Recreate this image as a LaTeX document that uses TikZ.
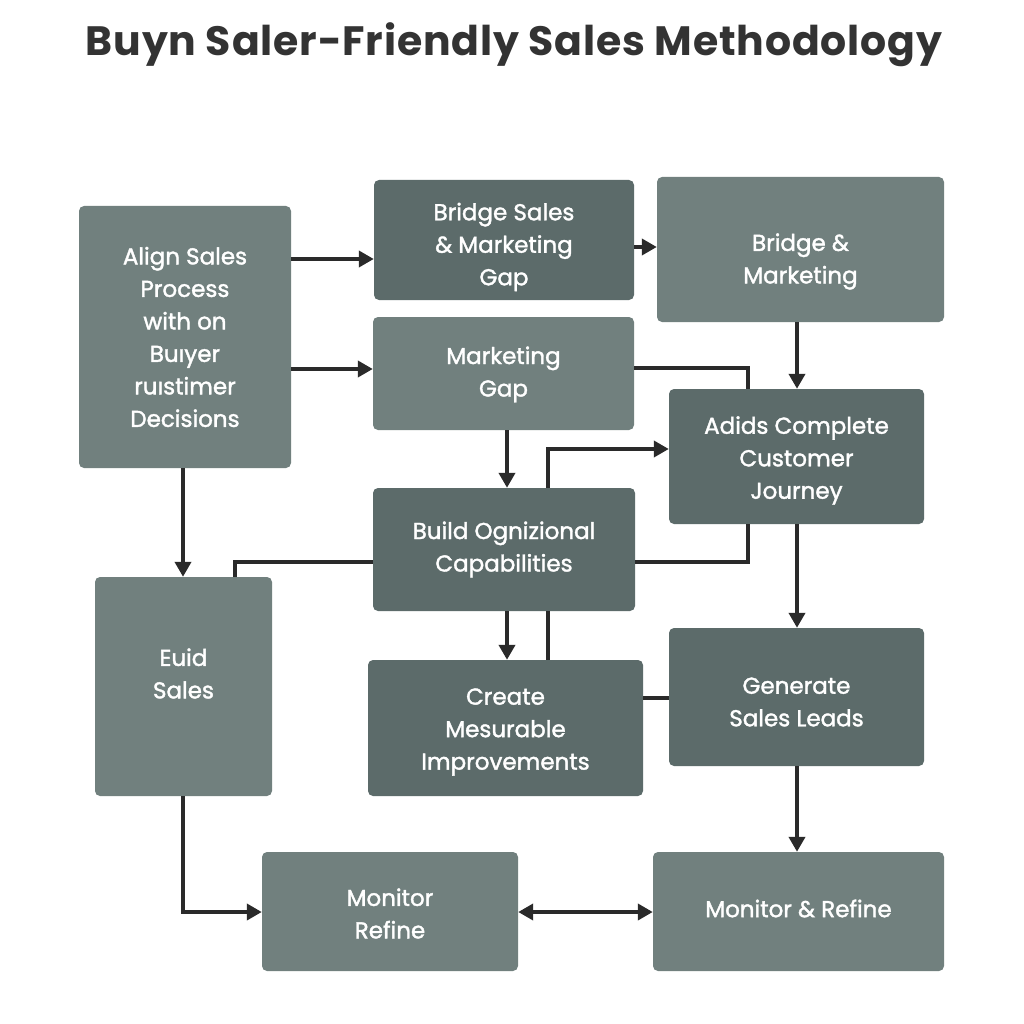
\documentclass[tikz,border=0pt]{standalone}
\usepackage{fontspec}
\setmainfont{Poppins}
\newfontfamily\boxfont[FakeBold=1.6]{Poppins}
\newfontfamily\titlefont[LetterSpace=2]{Poppins}
\usetikzlibrary{arrows.meta}
\definecolor{lightbox}{HTML}{71807E}
\definecolor{darkbox}{HTML}{5C6B6A}
\definecolor{linecol}{HTML}{2A2A2A}
\definecolor{titlecol}{HTML}{333333}
\tikzset{
  box/.style={rounded corners=5pt, inner sep=0pt},
  lightfill/.style={box, fill=lightbox},
  darkfill/.style={box, fill=darkbox},
  boxtext/.style={inner sep=0pt, align=center, text=white,
    font=\boxfont\fontsize{23}{32.5}\selectfont},
  link/.style={draw=linecol, line width=4pt},
  arr/.style={link, -{Triangle[length=15pt,width=16pt]}},
  dblarr/.style={link, {Triangle[length=15pt,width=16pt]}-{Triangle[length=15pt,width=16pt]}},
}
\begin{document}
\begin{tikzpicture}[x=1pt,y=-1pt]
\useasboundingbox (0,0) rectangle (1024,1024);
\fill[white] (0,0) rectangle (1024,1024);
\node[text=titlecol, font=\titlefont\bfseries\fontsize{41}{46}\selectfont] (title) at (514,45) {Buyn Saler-Friendly Sales Methodology};

\node[lightfill, minimum width=212pt, minimum height=262pt] (align) at (185,337) {};
\node[boxtext] (align-t) at (align.center) {Align Sales\\Process\\with on\\Buıyer\\ruıstimer\\Decisions};
\node[darkfill, minimum width=260pt, minimum height=120pt] (bsm) at (504,240) {};
\node[boxtext] (bsm-t) at ([yshift=-7pt]bsm.center) {Bridge Sales\\\& Marketing\\Gap};
\node[lightfill, minimum width=287pt, minimum height=145pt] (bm) at (800.5,249.5) {};
\node[boxtext] (bm-t) at ([yshift=-12pt]bm.center) {Bridge \&\\Marketing};
\node[lightfill, minimum width=261pt, minimum height=113pt] (mg) at (503.5,373.5) {};
\node[boxtext] (mg-t) at ([yshift=-1pt]mg.center) {Marketing\\Gap};
\node[darkfill, minimum width=255pt, minimum height=135pt] (adids) at (796.5,456.5) {};
\node[boxtext] (adids-t) at ([yshift=-4pt]adids.center) {Adids Complete\\Customer\\Journey};
\node[darkfill, minimum width=262pt, minimum height=123pt] (build) at (504,549.5) {};
\node[boxtext] (build-t) at (build.center) {Build Ognizional\\Capabilities};
\node[lightfill, minimum width=177pt, minimum height=219pt] (euid) at (183.5,686.5) {};
\node[boxtext] (euid-t) at ([yshift=13pt]euid.center) {Euid\\Sales};
\node[darkfill, minimum width=275pt, minimum height=136pt] (create) at (505.5,728) {};
\node[boxtext] (create-t) at ([yshift=-4pt]create.center) {Create\\Mesurable\\Improvements};
\node[darkfill, minimum width=255pt, minimum height=138pt] (gen) at (796.5,697) {};
\node[boxtext] (gen-t) at ([yshift=-5pt]gen.center) {Generate\\Sales Leads};
\node[lightfill, minimum width=256pt, minimum height=119pt] (mr) at (390,911.5) {};
\node[boxtext] (mr-t) at ([yshift=-2pt]mr.center) {Monitor\\Refine};
\node[lightfill, minimum width=291pt, minimum height=119pt] (mrr) at (798.5,911.5) {};
\node[boxtext] (mrr-t) at ([yshift=3pt]mrr.center) {Monitor \& Refine};

% connectors
\draw[arr] (align.east |- 0,259) -- (bsm.west |- 0,259);
\draw[arr] (align.east |- 0,369) -- (mg.west |- 0,369);
\draw[arr] (bsm.east |- 0,247) -- (bm.west |- 0,247);
\draw[arr] (bm.south -| 797,0) -- (adids.north -| 797,0);
\draw[link] (mg.east |- 0,368) -| (adids.north -| 748,0);
\draw[arr] (mg.south -| 507,0) -- (build.north -| 507,0);
\draw[arr] (build.north -| 548,0) |- (adids.west |- 0,449);
\draw[link] (adids.south -| 748,0) |- (build.east |- 0,562);
\draw[link] (build.west |- 0,562) -| (euid.north -| 235,0);
\draw[arr] (align.south -| 183,0) -- (euid.north -| 183,0);
\draw[arr] (build.south -| 507,0) -- (create.north -| 507,0);
\draw[link] (create.north -| 548,0) -- (build.south -| 548,0);
\draw[arr] (adids.south -| 797,0) -- (gen.north -| 797,0);
\draw[link] (create.east |- 0,698) -- (gen.west |- 0,698);
\draw[arr] (gen.south -| 797,0) -- (mrr.north -| 797,0);
\draw[arr] (euid.south -| 183,0) |- (mr.west |- 0,912);
\draw[dblarr] (mr.east |- 0,912) -- (mrr.west |- 0,912);
\end{tikzpicture}
\end{document}
